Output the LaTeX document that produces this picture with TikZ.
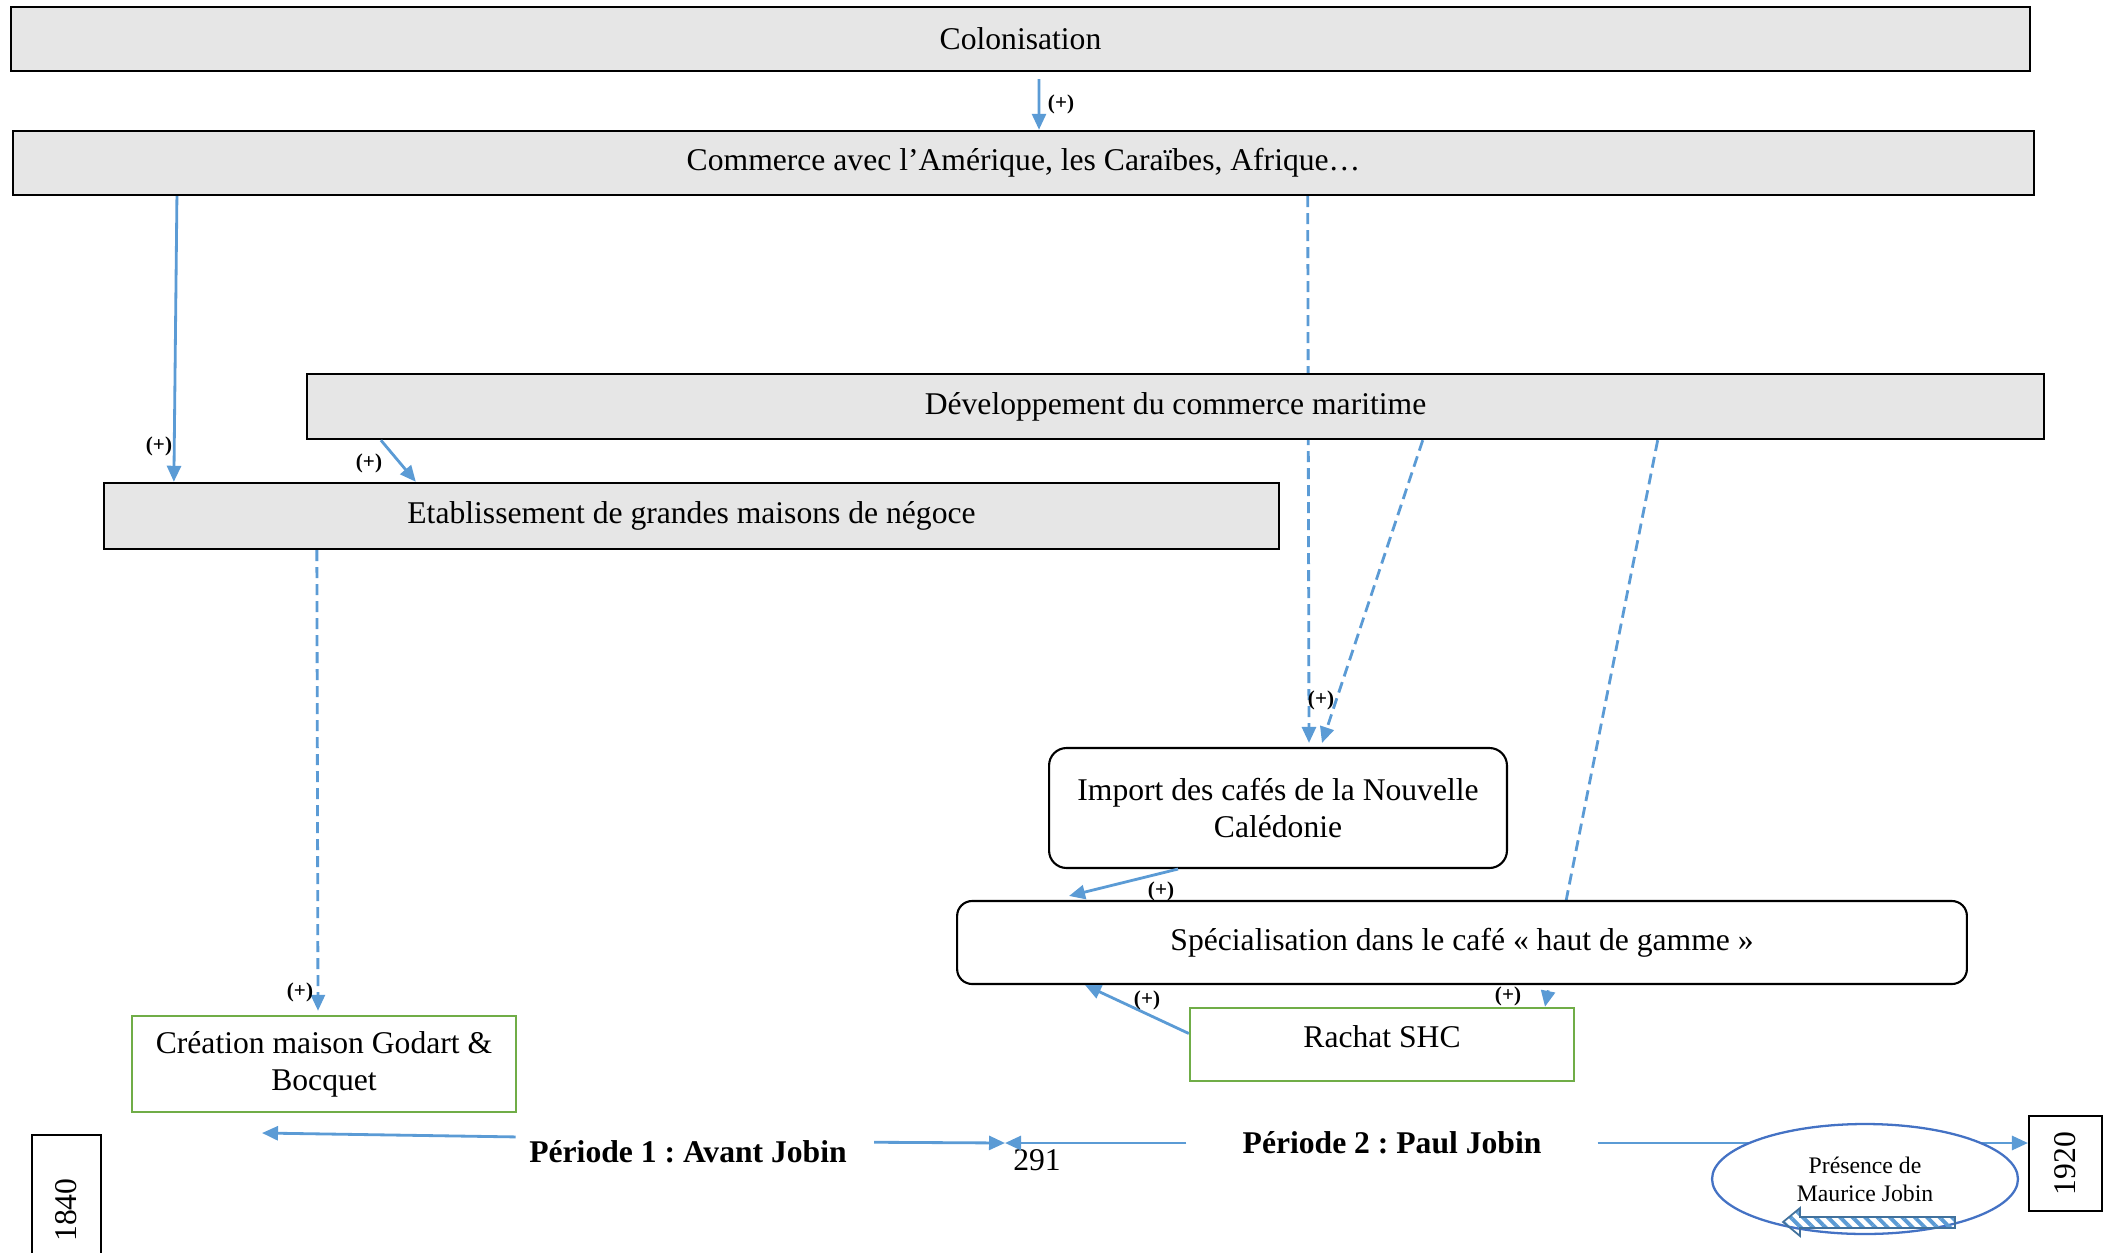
\documentclass[tikz,border=0pt]{standalone}
\usepackage{fontspec}
\setmainfont{Liberation Serif}
\usetikzlibrary{arrows.meta,shapes.geometric,backgrounds,patterns.meta}
\frenchspacing

\definecolor{linkblue}{HTML}{5B9BD5}
\definecolor{boxgray}{HTML}{E6E6E6}
\definecolor{boxgreen}{HTML}{70AD47}
\definecolor{ellblue}{HTML}{4472C4}
\definecolor{hatchblue}{HTML}{41719C}

\tikzset{
    graybox/.style={draw, fill=boxgray, line width=1.4pt, inner sep=0pt, font=\fontsize{18}{21}\selectfont},
    roundbox/.style={draw, fill=white, rounded corners=0.35cm, line width=1.2pt, inner sep=0pt, align=center, font=\fontsize{18}{21}\selectfont},
    greenbox/.style={draw=boxgreen, fill=white, line width=1.4pt, inner sep=0pt, align=center, font=\fontsize{18}{21}\selectfont},
    yearbox/.style={draw, fill=white, line width=1.2pt, inner sep=0pt, font=\fontsize{18}{21}\selectfont},
    period/.style={inner ysep=2pt, font=\fontsize{18}{21}\selectfont\bfseries},
    plus/.style={inner sep=0pt, font=\fontsize{12}{14}\selectfont\bfseries},
    link/.style={draw=linkblue, line width=1.6pt, -{Triangle[length=0.32cm,width=0.28cm]}},
    dlink/.style={link, dash pattern=on 0.22cm off 0.12cm}
}

\begin{document}
\begin{tikzpicture}[x=0.02cm, y=-0.02cm]
    \useasboundingbox (0,0) rectangle (2111,1253);

    % causal chain
    \node[graybox, minimum width=40.38cm, minimum height=1.28cm] (colon) at (1020.5,39) {Colonisation};
    \node[graybox, minimum width=40.42cm, minimum height=1.28cm] (comm) at (1023.5,163) {Commerce avec l’Amérique, les Caraïbes, Afrique…};
    \node[graybox, minimum width=34.74cm, minimum height=1.30cm] (dev) at (1175.5,406.5) {Développement du commerce maritime};
    \node[graybox, minimum width=23.5cm, minimum height=1.32cm] (etab) at (691.5,516) {Etablissement de grandes maisons de négoce};
    \node[roundbox, minimum width=9.16cm, minimum height=2.4cm] (import) at (1278,808) {Import des cafés de la Nouvelle\\Calédonie};
    \node[roundbox, rounded corners=0.3cm, minimum width=20.2cm, minimum height=1.66cm] (spec) at (1462,942.5) {Spécialisation dans le café « haut de gamme »};
    \node[greenbox, minimum width=7.68cm, minimum height=1.46cm, text depth=0.32cm] (rachat) at (1382,1044.5) {Rachat SHC};
    \node[greenbox, minimum width=7.68cm, minimum height=1.92cm] (creation) at (324,1064) {Création maison Godart \&\\Bocquet};

    \draw[link, shorten <=0.14cm] ([xshift=0.37cm]colon.south) -- ([xshift=0.31cm]comm.north);
    \draw[link] ([xshift=3.3cm]comm.south west) -- ([xshift=1.42cm]etab.north west);
    \draw[link] ([xshift=1.5cm]dev.south west) -- ([xshift=6.26cm]etab.north west);
    \draw[link] ([xshift=-2cm]import.south) -- ([xshift=2.26cm,yshift=0.08cm]spec.north west);
    \draw[link] ([yshift=0.22cm]rachat.west) -- ([xshift=2.58cm]spec.south west);

    \begin{scope}[on background layer]
        \draw[dlink] ([xshift=25.92cm]comm.south west) -- ([xshift=0.62cm,yshift=0.08cm]import.north);
        \draw[dlink] ([xshift=22.34cm]dev.south west) -- ([xshift=0.88cm,yshift=0.08cm]import.north);
        \draw[dlink] ([xshift=27.04cm]dev.south west) -- ([xshift=3.26cm]rachat.north);
        \draw[dlink] ([xshift=4.28cm]etab.south west) -- ([xshift=-0.12cm,yshift=0.08cm]creation.north);
    \end{scope}

    \foreach \pos [count=\i] in {(1061,104), (159,446), (369,463), (1321,700), (1161,891), (1147,1000), (1508,996), (300,992)}
        \node[plus] (plus\i) at \pos {(+)};

    % time line
    \node[period, inner xsep=0.54cm] (p1) at (688,1152) {Période 1 : Avant Jobin};
    \node[period, inner xsep=1.12cm] (p2) at (1392,1143) {Période 2 : Paul Jobin};
    \node[font=\fontsize{18}{21}\selectfont] (n291) at (1037,1160) {291};
    \coordinate (start) at (262,1133);
    \coordinate (mid) at (1005,1143);
    \node[yearbox, rotate=90, minimum width=3cm, minimum height=1.38cm] (y1840) at (66.5,1210) {1840};
    \node[yearbox, rotate=90, minimum width=1.9cm, minimum height=1.46cm] (y1920) at (2065.5,1163.5) {1920};

    \draw[link] (p1.175) -- (start);
    \draw[link] (p1.3) -- (mid);
    \draw[link] (p2.west) -- (mid);
    \draw[link] (p2.east) -- (p2.east -| y1920.north);

    \node[ellipse, draw=ellblue, fill=white, line width=1.3pt, inner sep=0pt, align=center,
          minimum width=6.12cm, minimum height=2.2cm, font=\fontsize{13.5}{16}\selectfont] (maurice) at (1865,1179) {Présence de\\Maurice Jobin};
    \draw[hatchblue, line width=1pt, pattern={Lines[angle=-45,distance=5pt,line width=2.2pt]}, pattern color=linkblue]
        (1955,1217) -- (1800,1217) -- (1800,1208) -- (1783,1222) -- (1800,1236) -- (1800,1228) -- (1955,1228) -- cycle;
\end{tikzpicture}
\end{document}
